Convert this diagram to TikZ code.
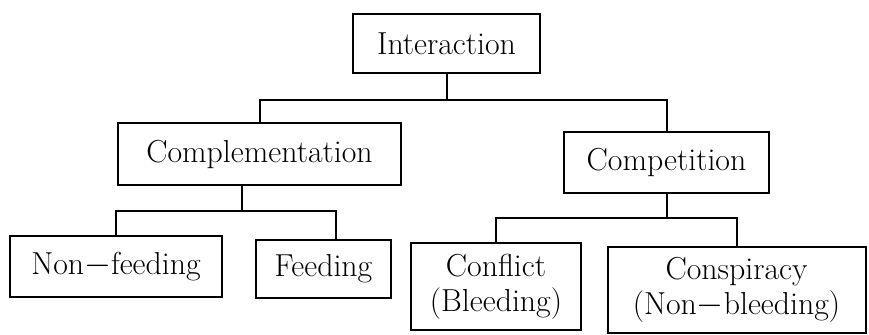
\documentclass[tikz,border=0pt]{standalone}
\begin{document}
\begin{tikzpicture}[x=0.5pt,y=-0.5pt,line width=1pt,
  box/.style={draw,inner sep=0pt,align=center,font=\fontsize{15.9pt}{17.5pt}\selectfont}]
\useasboundingbox (0,0) rectangle (869,335);
\node[box,minimum width=93.5pt,minimum height=29.5pt] (inter) at (446.5,43.5) {Interaction}; % top
\node[box,minimum width=141.5pt,minimum height=31pt] (compl) at (259.5,154) {Complementation};
\node[box,minimum width=102.5pt,minimum height=30.5pt] (compet) at (666.5,162.5) {Competition};
\node[box,minimum width=106pt,minimum height=30.5pt] (nonfeed) at (116,266.5) {Non$-$feeding};
\node[box,minimum width=67.5pt,minimum height=29pt] (feed) at (323.5,269) {Feeding};
\node[box,minimum width=85pt,minimum height=43.5pt] (conflict) at (496,286.5) {Conflict\\(Bleeding)};
\node[box,minimum width=129pt,minimum height=43pt] (consp) at (736.5,290) {Conspiracy\\(Non$-$bleeding)};
% branches
\draw (inter.south) -- ++(0,26) -| (compl.north);
\draw (inter.south) -- ++(0,26) -| (compet.north);
\draw ([xshift=-8.75pt]compl.south) -- ++(0,25) -| (nonfeed.north);
\draw ([xshift=-8.75pt]compl.south) -- ++(0,25) -| ([xshift=6pt]feed.north);
\draw (compet.south) -- ++(0,24) -| (conflict.north);
\draw (compet.south) -- ++(0,24) -| (consp.north);
\end{tikzpicture}
\end{document}
